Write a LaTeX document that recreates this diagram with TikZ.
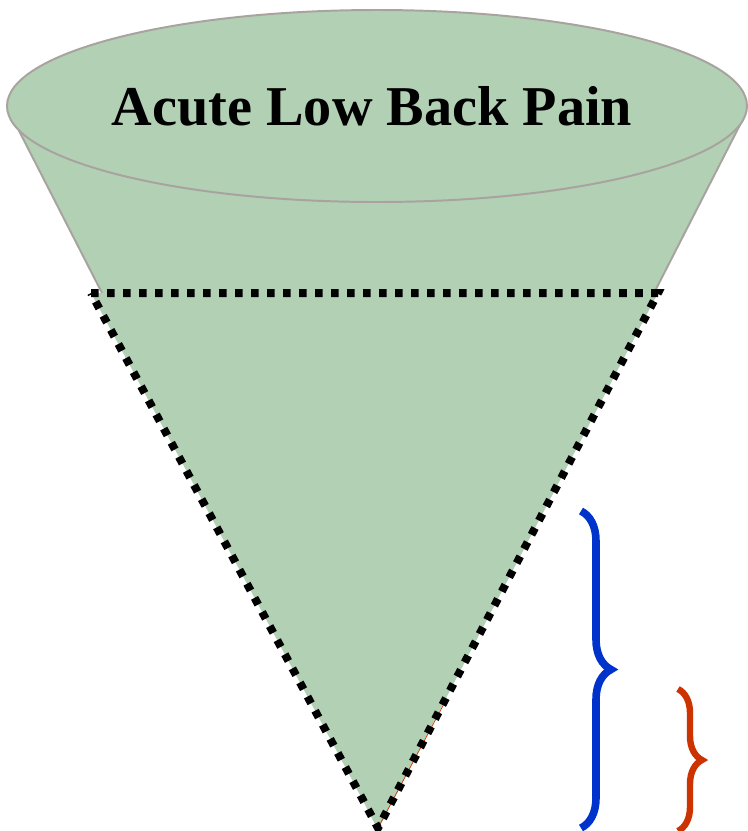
\documentclass[tikz,border=0pt]{standalone}
\usepackage{fontspec}
\setmainfont{Liberation Serif}
\usetikzlibrary{decorations.pathreplacing}
\definecolor{conegreen}{RGB}{178,208,180}
\definecolor{conegray}{RGB}{168,163,158}
\definecolor{braceblue}{RGB}{0,51,204}
\definecolor{bracered}{RGB}{204,51,0}
\begin{document}
\begin{tikzpicture}[x=0.025cm, y=-0.025cm,
    cone/.style={fill=conegreen, draw=none},
    rim/.style={draw=conegray, line width=1.4pt},
    cut/.style={draw=black, line width=0.2cm, dash pattern=on 0.19cm off 0.21cm},
    bluebrace/.style={draw=braceblue, line width=0.19cm, decorate,
                      decoration={brace, amplitude=0.75cm}},
    redbrace/.style={draw=bracered, line width=0.16cm, decorate,
                     decoration={brace, amplitude=0.6cm}}]

  \useasboundingbox (0,0) rectangle (748,831);

  % ---- the funnel: green body, tangent at the rim, down to the tip
  \coordinate (tip) at (378,830);
  \coordinate (rimL) at (13,119);
  \coordinate (rimR) at (743,119);
  \coordinate (edgeL) at (102,293);
  \coordinate (edgeR) at (654,293);
  \fill[cone] (rimL) -- (tip) -- (rimR) -- cycle;
  \draw[rim] (rimL) -- (edgeL);
  \draw[rim] (rimR) -- (edgeR);
  \draw[rim, fill=conegreen] (377,106) ellipse [x radius=370, y radius=96];
  \node[font=\fontsize{40}{48}\selectfont\bfseries, anchor=base] (title)
    at (372,125) {Acute Low Back Pain};

  % ---- the dotted lower part
  \coordinate (cutL) at (91,293);
  \coordinate (cutR) at (658,293);
  \coordinate (cutT) at (378,828);
  \fill[cone] (cutL) -- (cutR) -- (cutT) -- cycle;
  \draw[bracered, line width=0.5pt] (446,700) -- (cutT);
  \draw[cut] (cutL) -- (cutR) -- (cutT) -- cycle;

  % ---- the two braces on the right
  \coordinate (blueTop) at (581,511);
  \coordinate (blueBot) at (581,828);
  \coordinate (redTop) at (678,689);
  \coordinate (redBot) at (678,831);
  \draw[bluebrace] (blueTop) -- (blueBot);
  \draw[redbrace] (redTop) -- (redBot);
\end{tikzpicture}
\end{document}
